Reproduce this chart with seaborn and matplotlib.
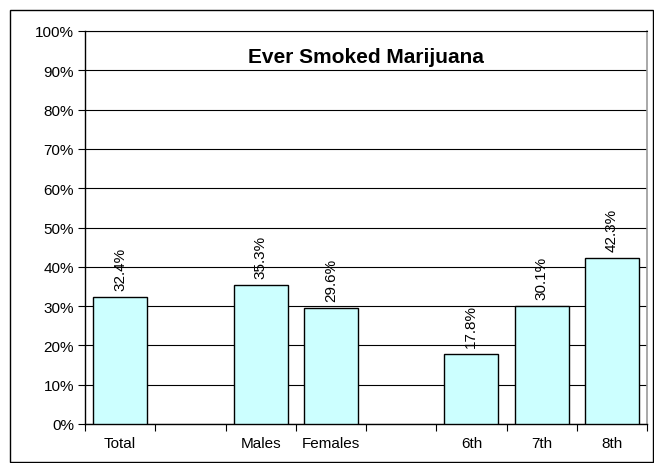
import numpy as np
import pandas as pd
import matplotlib
matplotlib.use("Agg")
import matplotlib.pyplot as plt
import seaborn as sns
from matplotlib.patches import Rectangle
from matplotlib.ticker import FixedLocator, FixedFormatter, NullFormatter, PercentFormatter

# Category slots (blank slots separate the groups)
slots = ["Total", "", "Males", "Females", " ", "6th", "7th", "8th"]
groups = ["Total", "Males", "Females", "6th", "7th", "8th"]
values = [32.4, 35.3, 29.6, 17.8, 30.1, 42.3]
title = "Ever Smoked Marijuana"

sns.set_theme(style="white")
plt.rcParams["font.family"] = ["Liberation Sans", "DejaVu Sans"]

df = pd.DataFrame({"group": groups, "value": values})

fig = plt.figure(figsize=(6.54, 4.64), dpi=100)
ax = fig.add_axes([85 / 654, 1 - 425 / 464, (647 - 85) / 654, (425 - 32) / 464])

sns.barplot(data=df, x="group", y="value", order=slots, color="#CCFFFF",
            edgecolor="black", linewidth=1.0, width=0.77, saturation=1,
            ax=ax, zorder=3)

ax.set_ylim(0, 100)
ax.set_xlim(-0.5, len(slots) - 0.5)
ax.set_yticks(np.arange(0, 101, 10))
ax.yaxis.set_major_formatter(PercentFormatter(decimals=0))
ax.grid(axis="y", color="black", linewidth=0.8, zorder=0)
ax.set_axisbelow(True)

# Tick marks on slot boundaries, labels centred in slots
ax.xaxis.set_major_locator(FixedLocator(np.arange(-0.5, len(slots), 1.0)))
ax.xaxis.set_major_formatter(NullFormatter())
ax.xaxis.set_minor_locator(FixedLocator(np.arange(len(slots))))
ax.xaxis.set_minor_formatter(FixedFormatter(slots))
ax.tick_params(axis="x", which="major", length=5, width=0.8, direction="out",
               bottom=True, color="black")
ax.tick_params(axis="x", which="minor", length=0, pad=9, labelsize=11,
               bottom=True, labelcolor="black")
ax.tick_params(axis="y", length=5, width=0.8, direction="out", left=True,
               color="black", labelsize=11, pad=3, labelcolor="black")

ax.set_xlabel("")
ax.set_ylabel("")

for side in ["left", "bottom"]:
    ax.spines[side].set_color("black")
    ax.spines[side].set_linewidth(1.0)
ax.spines["top"].set_color("black")
ax.spines["top"].set_linewidth(0.8)
ax.spines["right"].set_color("#999999")
ax.spines["right"].set_linewidth(1.2)

# Value labels above bars
for g, v in zip(groups, values):
    x = slots.index(g)
    ax.annotate(f"{v:.1f}%", (x, v), xytext=(0, 5), textcoords="offset points",
                rotation=90, ha="center", va="bottom", fontsize=11,
                color="black", zorder=4)

ax.text(0.5, 0.934, title, transform=ax.transAxes, ha="center", va="center",
        fontsize=15, fontweight="bold", color="black", zorder=5)

# Chart area border
fig.add_artist(Rectangle((10 / 654, 1 / 464), 643 / 654, 452 / 464,
                         transform=fig.transFigure, fill=False,
                         edgecolor="black", linewidth=1.0))

fig.savefig("out.png", dpi=100, facecolor="white")
